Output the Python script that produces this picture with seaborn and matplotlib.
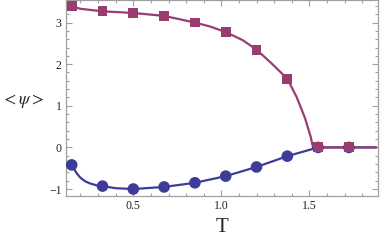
import numpy as np
import pandas as pd
import matplotlib
matplotlib.use("Agg")
import matplotlib.pyplot as plt
from matplotlib.ticker import MultipleLocator
import seaborn as sns

# ---- data ----
T_pts = [0.15, 0.325, 0.5, 0.675, 0.85, 1.025, 1.2, 1.375, 1.55, 1.725]
psi_sq = [3.39, 3.27, 3.23, 3.16, 3.0, 2.77, 2.35, 1.65, 0.0, 0.0]
psi_ci = [-0.42, -0.93, -1.0, -0.95, -0.85, -0.69, -0.47, -0.21, 0.0, 0.0]

# curve traces
T_line_sq = [0.15, 0.2, 0.325, 0.5, 0.675, 0.85, 0.94, 1.025, 1.12, 1.2,
             1.29, 1.375, 1.428, 1.476, 1.508, 1.521, 1.88]
psi_line_sq = [3.39, 3.33, 3.27, 3.23, 3.16, 3.0, 2.9, 2.77, 2.58, 2.35,
               2.0, 1.65, 1.21, 0.70, 0.25, 0.0, 0.0]
T_line_ci = [0.15, 0.165, 0.18, 0.2, 0.225, 0.25, 0.29, 0.325, 0.4, 0.5,
             0.675, 0.85, 1.025, 1.2, 1.375, 1.55, 1.88]
psi_line_ci = [-0.42, -0.53, -0.63, -0.73, -0.81, -0.86, -0.91, -0.93,
               -0.98, -1.0, -0.95, -0.85, -0.69, -0.47, -0.21, 0.0, 0.0]

blue = "#3d3d99"
purple = "#993d71"
frame = "#a0a0a0"

sns.set_style("ticks")
plt.rcParams["font.family"] = ["Liberation Serif", "DejaVu Serif"]
plt.rcParams["mathtext.fontset"] = "stix"

fig = plt.figure(figsize=(3.82, 2.41), dpi=100)
ax = fig.add_axes([0.172, 0.188, 0.817, 0.81])

sns.lineplot(x=T_line_ci, y=psi_line_ci, ax=ax, color=blue, lw=1.6, sort=False)
sns.lineplot(x=T_line_sq, y=psi_line_sq, ax=ax, color=purple, lw=1.6, sort=False)
sns.scatterplot(x=T_pts, y=psi_ci, ax=ax, color=blue, marker="o", s=70,
                edgecolor="none", zorder=3)
sns.scatterplot(x=T_pts, y=psi_sq, ax=ax, color=purple, marker="s", s=50,
                edgecolor="none", zorder=4)

ax.set_xlim(0.116, 1.889)
ax.set_ylim(-1.16, 3.53)
ax.xaxis.set_major_locator(MultipleLocator(0.5))
ax.xaxis.set_minor_locator(MultipleLocator(0.1))
ax.yaxis.set_major_locator(MultipleLocator(1))
ax.yaxis.set_minor_locator(MultipleLocator(0.2))
ax.set_xticks([0.5, 1.0, 1.5])
ax.set_xticklabels(["0.5", "1.0", "1.5"])
ax.set_yticks([-1, 0, 1, 2, 3])
ax.set_yticklabels(["\u22121", "0", "1", "2", "3"])

for s in ax.spines.values():
    s.set_color(frame)
    s.set_linewidth(0.9)
ax.tick_params(which="both", direction="in", top=True, right=True,
               color=frame, width=0.8, labelsize=8.5, labelcolor="#222222", pad=3)
ax.tick_params(which="major", length=4)
ax.tick_params(which="minor", length=2)

ax.set_xlabel("T", fontsize=15)
ax.xaxis.set_label_coords(0.5, -0.112)
ax.set_ylabel(r"$<\psi>$", fontsize=13, rotation=0, va="center", ha="center")
ax.yaxis.set_label_coords(-0.138, 0.487)

fig.savefig("out.png", dpi=100)
